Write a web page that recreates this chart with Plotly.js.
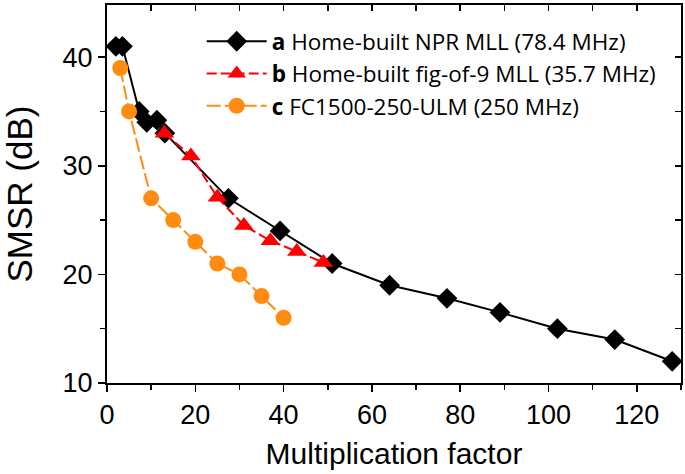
<!DOCTYPE html>
<html>
<head>
<meta charset="utf-8">
<script src="https://cdn.plot.ly/plotly-3.0.1.min.js"></script>
<style>html,body{margin:0;padding:0;background:#fff;}#chart{width:685px;height:474px;}</style>
</head>
<body>
<div id="chart"></div>
<script>
// Series a: Home-built NPR MLL (78.4 MHz)
const aX = [2, 3.5, 7.3, 9, 11.3, 13.1, 27.5, 39.2, 51, 64, 77, 89, 102, 115, 128];
const aY = [41, 41, 35, 34, 34.2, 33, 27, 24, 21, 19, 17.8, 16.5, 15, 14, 12];
// Series b: Home-built fig-of-9 MLL (35.7 MHz)
const bX = [13, 19, 25, 31, 37, 43, 49];
const bY = [33, 30.9, 27.1, 24.5, 23.1, 22.1, 21.1];
// Series c: FC1500-250-ULM (250 MHz)
const cX = [3, 5, 10, 15, 20, 25, 30, 35, 40];
const cY = [39, 35, 27, 25, 23, 21, 20, 18, 16];
const names = [
  '<b>a</b> Home-built NPR MLL (78.4 MHz)',
  '<b>b</b> Home-built fig-of-9 MLL (35.7 MHz)',
  '<b>c</b> FC1500-250-ULM (250 MHz)'
];
const xTitle = 'Multiplication factor';
const yTitle = 'SMSR (dB)';

const tickFont = {family: 'Arial, "Liberation Sans", sans-serif', size: 27, color: '#000'};
const traces = [
  {x: aX, y: aY, name: names[0], type: 'scatter', mode: 'lines+markers',
   line: {color: '#000000', width: 2},
   marker: {symbol: 'diamond', size: 16, color: '#000000'}},
  {x: bX, y: bY, name: names[1], type: 'scatter', mode: 'lines+markers',
   line: {color: '#ff0000', width: 2, dash: '10px,4px'},
   marker: {symbol: 'triangle-up', size: 17, color: '#ff0000'}},
  {x: cX, y: cY, name: names[2], type: 'scatter', mode: 'lines+markers',
   line: {color: '#ff8c10', width: 2, dash: '14px,4px'},
   marker: {symbol: 'circle', size: 16, color: '#ff8c10'}},
  {x: [], y: [], xaxis: 'x2', yaxis: 'y2', showlegend: false, hoverinfo: 'skip', type: 'scatter', mode: 'markers'}
];
const layout = {
  width: 685, height: 474,
  margin: {l: 107, r: 4, t: 5, b: 91},
  paper_bgcolor: '#fff', plot_bgcolor: '#fff',
  showlegend: true,
  legend: {
    x: 0.165, y: 0.96, xanchor: 'left', yanchor: 'top',
    bgcolor: 'rgba(0,0,0,0)', borderwidth: 0,
    itemwidth: 60, tracegroupgap: 0,
    font: {family: '"Open Sans", Lato, sans-serif', size: 22.5, color: '#000'}
  },
  xaxis: {
    range: [0, 130], dtick: 20, tick0: 0,
    ticks: 'outside', ticklen: 7, tickwidth: 1.5, tickcolor: '#000',
    minor: {dtick: 10, ticks: 'outside', ticklen: 5, tickwidth: 1.5, tickcolor: '#000'},
    showline: true, linecolor: '#000', linewidth: 2,
    showgrid: false, zeroline: false,
    tickfont: tickFont,
    title: {text: xTitle, font: {family: 'Arial, "Liberation Sans", sans-serif', size: 30, color: '#000'}, standoff: 14}
  },
  yaxis: {
    range: [10, 44.8], dtick: 10, tick0: 0,
    ticks: 'outside', ticklen: 7, tickwidth: 1.5, tickcolor: '#000',
    minor: {dtick: 5, ticks: 'outside', ticklen: 5, tickwidth: 1.5, tickcolor: '#000'},
    showline: true, linecolor: '#000', linewidth: 2,
    showgrid: false, zeroline: false,
    tickfont: tickFont,
    title: {text: yTitle, font: {family: 'Arial, "Liberation Sans", sans-serif', size: 35, color: '#000'}, standoff: 26}
  },
  xaxis2: {
    overlaying: 'x', side: 'top', anchor: 'y2',
    range: [0, 130], dtick: 10, tick0: 0,
    ticks: 'inside', ticklen: 6, tickwidth: 1.5, tickcolor: '#000',
    showticklabels: false, showline: true, linecolor: '#000', linewidth: 2,
    showgrid: false, zeroline: false
  },
  yaxis2: {
    overlaying: 'y', side: 'right', anchor: 'x2',
    range: [10, 44.8], dtick: 5, tick0: 0,
    ticks: 'inside', ticklen: 6, tickwidth: 1.5, tickcolor: '#000',
    showticklabels: false, showline: true, linecolor: '#000', linewidth: 2,
    showgrid: false, zeroline: false
  }
};
Plotly.newPlot('chart', traces, layout, {displayModeBar: false, staticPlot: true});
</script>
</body>
</html>
